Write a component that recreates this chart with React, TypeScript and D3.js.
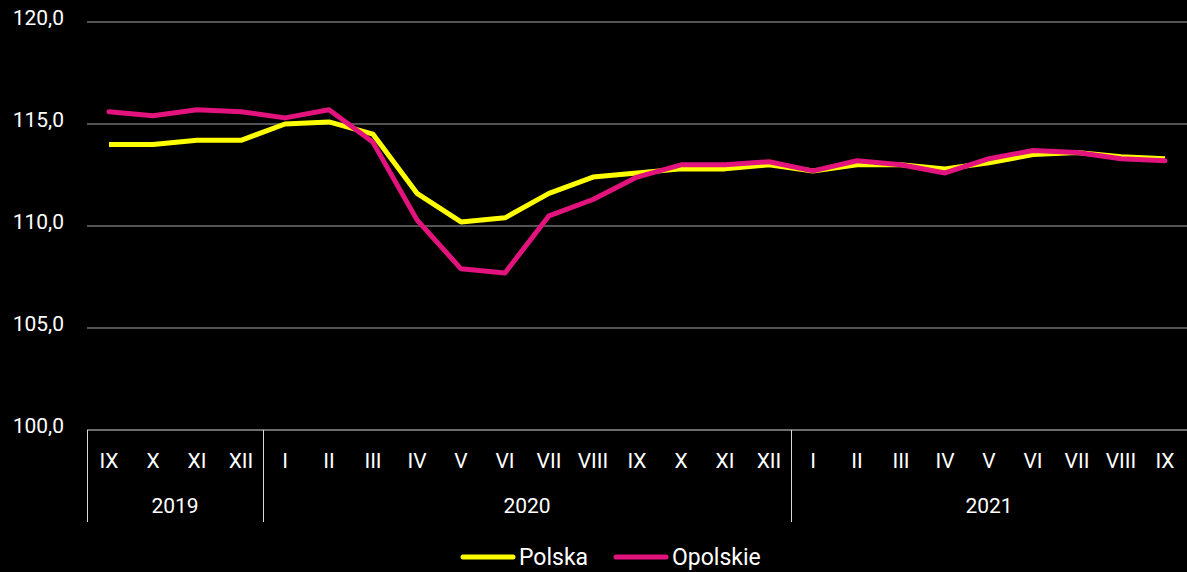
import React from "react";
import * as d3 from "d3";

const months = ["IX","X","XI","XII","I","II","III","IV","V","VI","VII","VIII","IX","X","XI","XII","I","II","III","IV","V","VI","VII","VIII","IX"];
const years = [
  { label: "2019", count: 4 },
  { label: "2020", count: 12 },
  { label: "2021", count: 9 },
];
const polska = [114.0,114.0,114.2,114.2,115.0,115.1,114.5,111.6,110.2,110.4,111.6,112.4,112.6,112.8,112.8,113.0,112.7,113.0,113.0,112.8,113.1,113.5,113.6,113.4,113.3];
const opolskie = [115.6,115.4,115.7,115.6,115.3,115.7,114.1,110.3,107.9,107.7,110.5,111.3,112.4,113.0,113.0,113.15,112.7,113.2,113.0,112.6,113.3,113.7,113.6,113.3,113.2];
const yTicks = [100,105,110,115,120];

const W = 1187, H = 572;
const left = 87, right = 1187, top = 22, bottom = 430;
const FONT = "Roboto, 'Noto Sans', sans-serif";
const YELLOW = "#FFFF00";
const PINK = "#E2137D";

export default function App() {
  const idx = months.map((_, i) => i);
  const x = d3.scaleBand<number>().domain(idx).range([left, right]);
  const y = d3.scaleLinear().domain([100, 120]).range([bottom, top]);
  const line = d3.line<number>().x((_, i) => (x(i) as number) + x.bandwidth() / 2).y(d => y(d));
  const fmt = (v: number) => v.toFixed(1).replace(".", ",");

  let acc = 0;
  const yearPos = years.map(yr => {
    const start = acc;
    acc += yr.count;
    return { ...yr, start, end: acc };
  });

  return (
    <svg width={W} height={H} style={{ position: "absolute", left: 0, top: 0, background: "#000" }}>
      <rect x={0} y={0} width={W} height={H} fill="#000" />
      {yTicks.map(t => (
        <g key={t}>
          <line x1={left} x2={right} y1={y(t)} y2={y(t)} stroke={t === 100 ? "#d9d9d9" : "#a6a6a6"} strokeWidth={1} />
          <text x={64} y={y(t)} dy="0.15em" textAnchor="end" fill="#fff" fontSize={21} fontFamily={FONT}>{fmt(t)}</text>
        </g>
      ))}
      {months.map((m, i) => (
        <text key={i} x={(x(i) as number) + x.bandwidth() / 2} y={468} textAnchor="middle" fill="#fff" fontSize={21} fontFamily={FONT}>{m}</text>
      ))}
      {yearPos.map(yr => {
        const x0 = x(yr.start) as number;
        const x1 = yr.end >= months.length ? right : (x(yr.end) as number);
        return (
          <text key={yr.label} x={(x0 + x1) / 2} y={513} textAnchor="middle" fill="#fff" fontSize={21} fontFamily={FONT}>{yr.label}</text>
        );
      })}
      {yearPos.map(yr => yr.start).map(s => (
        <line key={s} x1={(x(s) as number) + 0.5} x2={(x(s) as number) + 0.5} y1={bottom} y2={522} stroke="#d9d9d9" strokeWidth={1} />
      ))}
      <path d={line(polska) as string} fill="none" stroke={YELLOW} strokeWidth={5} strokeLinejoin="round" />
      <path d={line(opolskie) as string} fill="none" stroke={PINK} strokeWidth={5} strokeLinejoin="round" strokeLinecap="round" />
      <g>
        <line x1={463} x2={513} y1={557} y2={557} stroke={YELLOW} strokeWidth={5} strokeLinecap="round" />
        <text x={519} y={565} fill="#fff" fontSize={23} fontFamily={FONT}>Polska</text>
        <line x1={616} x2={666} y1={557} y2={557} stroke={PINK} strokeWidth={5} strokeLinecap="round" />
        <text x={672} y={565} fill="#fff" fontSize={23} fontFamily={FONT}>Opolskie</text>
      </g>
    </svg>
  );
}
